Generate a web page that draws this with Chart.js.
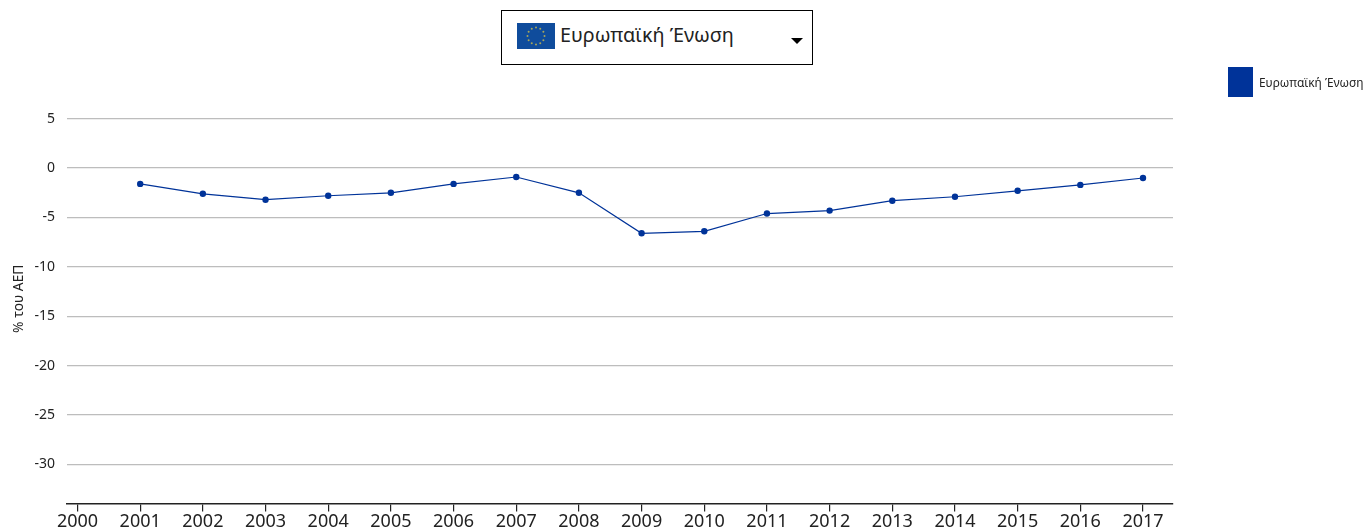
<!DOCTYPE html>
<html lang="el">
<head>
<meta charset="utf-8">
<title>Ευρωπαϊκή Ένωση</title>
<script src="https://cdn.jsdelivr.net/npm/chart.js@4"></script>
<style>
    html, body { margin: 0; padding: 0; background: #fff; overflow: hidden; }
    body { width: 1365px; height: 532px; position: relative; font-family: "Noto Sans", sans-serif; color: #222; }
    #chart-box { position: absolute; left: 0; top: 0; width: 1365px; height: 532px; }
    #selector {
        position: absolute; left: 501px; top: 10px; width: 310px; height: 53px;
        border: 1px solid #000; background: #fff;
    }
    #selector svg { position: absolute; left: 15px; top: 12px; }
    #selector span { position: absolute; left: 58px; top: 9px; font-size: 19.8px; line-height: 30px; white-space: nowrap; }
    #selector i {
        position: absolute; left: 289px; top: 27px; width: 0; height: 0;
        border-left: 6px solid transparent; border-right: 6px solid transparent; border-top: 6px solid #000;
    }
    #legend { position: absolute; left: 1228px; top: 67px; height: 30px; white-space: nowrap; }
    #legend b { position: absolute; left: 0; top: 0; width: 25px; height: 30px; }
    #legend span { position: absolute; left: 31px; top: 0; font-size: 11.9px; line-height: 31px; }
</style>
</head>
<body>
<div id="chart-box"><canvas id="chart" width="1365" height="532"></canvas></div>
<div id="selector">
    <svg id="flag" width="38" height="26" viewBox="0 0 38 26"><rect width="38" height="26" fill="#0f4c9c"/></svg>
    <span id="selector-label"></span>
    <i></i>
</div>
<div id="legend"><b id="legend-box"></b><span id="legend-label"></span></div>

<script>
const seriesName = 'Ευρωπαϊκή Ένωση';
const yAxisTitle = '% του ΑΕΠ';
const tickYears = [2000, 2001, 2002, 2003, 2004, 2005, 2006, 2007, 2008, 2009, 2010, 2011, 2012, 2013, 2014, 2015, 2016, 2017];
const years = [2001, 2002, 2003, 2004, 2005, 2006, 2007, 2008, 2009, 2010, 2011, 2012, 2013, 2014, 2015, 2016, 2017];
const balance = [-1.6, -2.6, -3.2, -2.8, -2.5, -1.6, -0.9, -2.5, -6.6, -6.4, -4.6, -4.3, -3.3, -2.9, -2.3, -1.7, -1.0];
const yTicks = [5, 0, -5, -10, -15, -20, -25, -30];

const blue = '#003399';
const fontFamily = '"Noto Sans", sans-serif';

// dropdown and legend sit outside the canvas
document.getElementById('selector-label').textContent = seriesName;
document.getElementById('legend-label').textContent = seriesName;
document.getElementById('legend-box').style.background = blue;

// ring of stars on the flag
let flag = document.getElementById('flag');
for (let i = 0; i < 12; i++) {
    let star = document.createElementNS('http://www.w3.org/2000/svg', 'circle');
    star.setAttribute('cx', 19 + 8.5 * Math.cos(i * Math.PI / 6));
    star.setAttribute('cy', 13 + 8.5 * Math.sin(i * Math.PI / 6));
    star.setAttribute('r', 1);
    star.setAttribute('fill', '#a8a65a');
    flag.appendChild(star);
}

new Chart(document.getElementById('chart').getContext('2d'), {
    type: 'line',
    data: {
        datasets: [{
            label: seriesName,
            data: years.map((year, i) => ({ x: year, y: balance[i] })),
            borderColor: blue,
            backgroundColor: blue,
            borderWidth: 1.2,
            pointRadius: 3.2,
            pointBorderWidth: 0,
            tension: 0
        }]
    },
    options: {
        responsive: false,
        animation: false,
        layout: { padding: { left: 11, top: 94, right: 192, bottom: 0 } },
        plugins: {
            legend: { display: false },
            tooltip: { enabled: false }
        },
        scales: {
            x: {
                type: 'linear',
                min: 1999.8325,
                max: 2017.4786,
                afterBuildTicks: scale => { scale.ticks = tickYears.map(value => ({ value })); },
                afterFit: scale => { scale.height = 28.5; },
                grid: { drawOnChartArea: false, drawTicks: true, tickLength: 8, color: '#222', lineWidth: 1.2 },
                border: { color: '#222', width: 1.5 },
                ticks: {
                    color: '#222',
                    font: { family: fontFamily, size: 18 },
                    padding: 0,
                    maxRotation: 0,
                    autoSkip: false,
                    callback: value => String(value)
                }
            },
            y: {
                min: -33.95,
                max: 7.5,
                afterBuildTicks: scale => { scale.ticks = yTicks.map(value => ({ value })); },
                afterFit: scale => { scale.width = 56; },
                grid: { drawTicks: false, color: '#bdbdbd', lineWidth: 1.2 },
                border: { display: false },
                title: {
                    display: true,
                    text: yAxisTitle,
                    color: '#222',
                    font: { family: fontFamily, size: 13.8 },
                    padding: 0
                },
                ticks: {
                    color: '#222',
                    font: { family: fontFamily, size: 14 },
                    padding: 12,
                    callback: value => String(value)
                }
            }
        }
    }
});
</script>
</body>
</html>
